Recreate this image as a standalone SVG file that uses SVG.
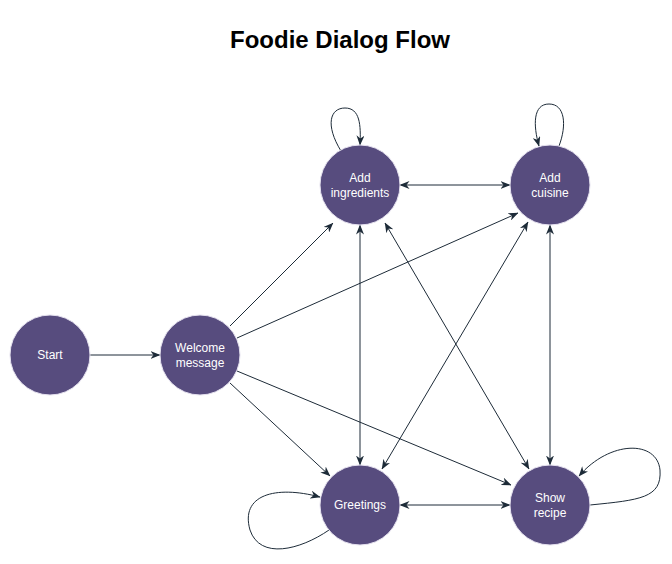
<svg xmlns="http://www.w3.org/2000/svg" width="672" height="564" viewBox="0 0 672 564">
<style>
.node{fill:#574c7e;stroke:#e4e0ee;stroke-width:1}
.lbl{font-family:"Liberation Sans",Arial,sans-serif;font-size:12px;fill:#ffffff;text-anchor:middle}
.edge{fill:none;stroke:#1d2b38;stroke-width:1}
.title{font-family:"Liberation Sans",Arial,sans-serif;font-size:24px;font-weight:bold;fill:#000;text-anchor:middle}
</style>
<defs>
<marker id="arr" viewBox="0 0 10 8" refX="9.5" refY="4" markerWidth="10" markerHeight="8" markerUnits="userSpaceOnUse" orient="auto-start-reverse">
<path d="M0,0 L10,4 L0,8 L3,4 z" fill="#1d2b38"/>
</marker>
</defs>
<rect width="672" height="564" fill="#ffffff"/>
<text class="title" x="340" y="48">Foodie Dialog Flow</text>
<g id="connectors">
<line class="edge" x1="90" y1="355" x2="160" y2="355" marker-end="url(#arr)"/>
<line class="edge" x1="230" y1="326" x2="333" y2="223" marker-end="url(#arr)"/>
<line class="edge" x1="237" y1="338" x2="518" y2="213" marker-end="url(#arr)"/>
<line class="edge" x1="237" y1="371" x2="511" y2="485" marker-end="url(#arr)"/>
<line class="edge" x1="230" y1="383" x2="330" y2="476" marker-end="url(#arr)"/>
<line class="edge" x1="400" y1="185" x2="510" y2="185" marker-start="url(#arr)" marker-end="url(#arr)"/>
<line class="edge" x1="360" y1="225" x2="360" y2="465" marker-start="url(#arr)" marker-end="url(#arr)"/>
<line class="edge" x1="385" y1="223" x2="529" y2="469" marker-start="url(#arr)" marker-end="url(#arr)"/>
<line class="edge" x1="528" y1="222" x2="382" y2="469" marker-start="url(#arr)" marker-end="url(#arr)"/>
<line class="edge" x1="550" y1="225" x2="550" y2="465" marker-start="url(#arr)" marker-end="url(#arr)"/>
<line class="edge" x1="400" y1="505" x2="510" y2="505" marker-start="url(#arr)" marker-end="url(#arr)"/>
<path class="edge" d="M341,151 C325,125 330,108 345,108 C360,108 361,125 360,145" marker-end="url(#arr)"/>
<path class="edge" d="M559,146 C567,125 565,104 549,104 C533,104 533,125 539,146" marker-end="url(#arr)"/>
<path class="edge" d="M329,530 C300,550 260,560 250,530 C240,495 275,485 320,497" marker-end="url(#arr)"/>
<path class="edge" d="M590,505 C640,500 662,498 660,470 C657,440 610,440 579,476" marker-end="url(#arr)"/>
</g>
<g id="node-start"><circle class="node" cx="50" cy="355" r="40"/><text class="lbl" x="50" y="359">Start</text></g>
<g id="node-welcome"><circle class="node" cx="200" cy="355" r="40"/><text class="lbl" x="200" y="352">Welcome</text><text class="lbl" x="200" y="367">message</text></g>
<g id="node-ingredients"><circle class="node" cx="360" cy="185" r="40"/><text class="lbl" x="360" y="182">Add</text><text class="lbl" x="360" y="197">ingredients</text></g>
<g id="node-cuisine"><circle class="node" cx="550" cy="185" r="40"/><text class="lbl" x="550" y="182">Add</text><text class="lbl" x="550" y="197">cuisine</text></g>
<g id="node-greetings"><circle class="node" cx="360" cy="505" r="40"/><text class="lbl" x="360" y="509">Greetings</text></g>
<g id="node-show"><circle class="node" cx="550" cy="505" r="40"/><text class="lbl" x="550" y="502">Show</text><text class="lbl" x="550" y="517">recipe</text></g>
</svg>
